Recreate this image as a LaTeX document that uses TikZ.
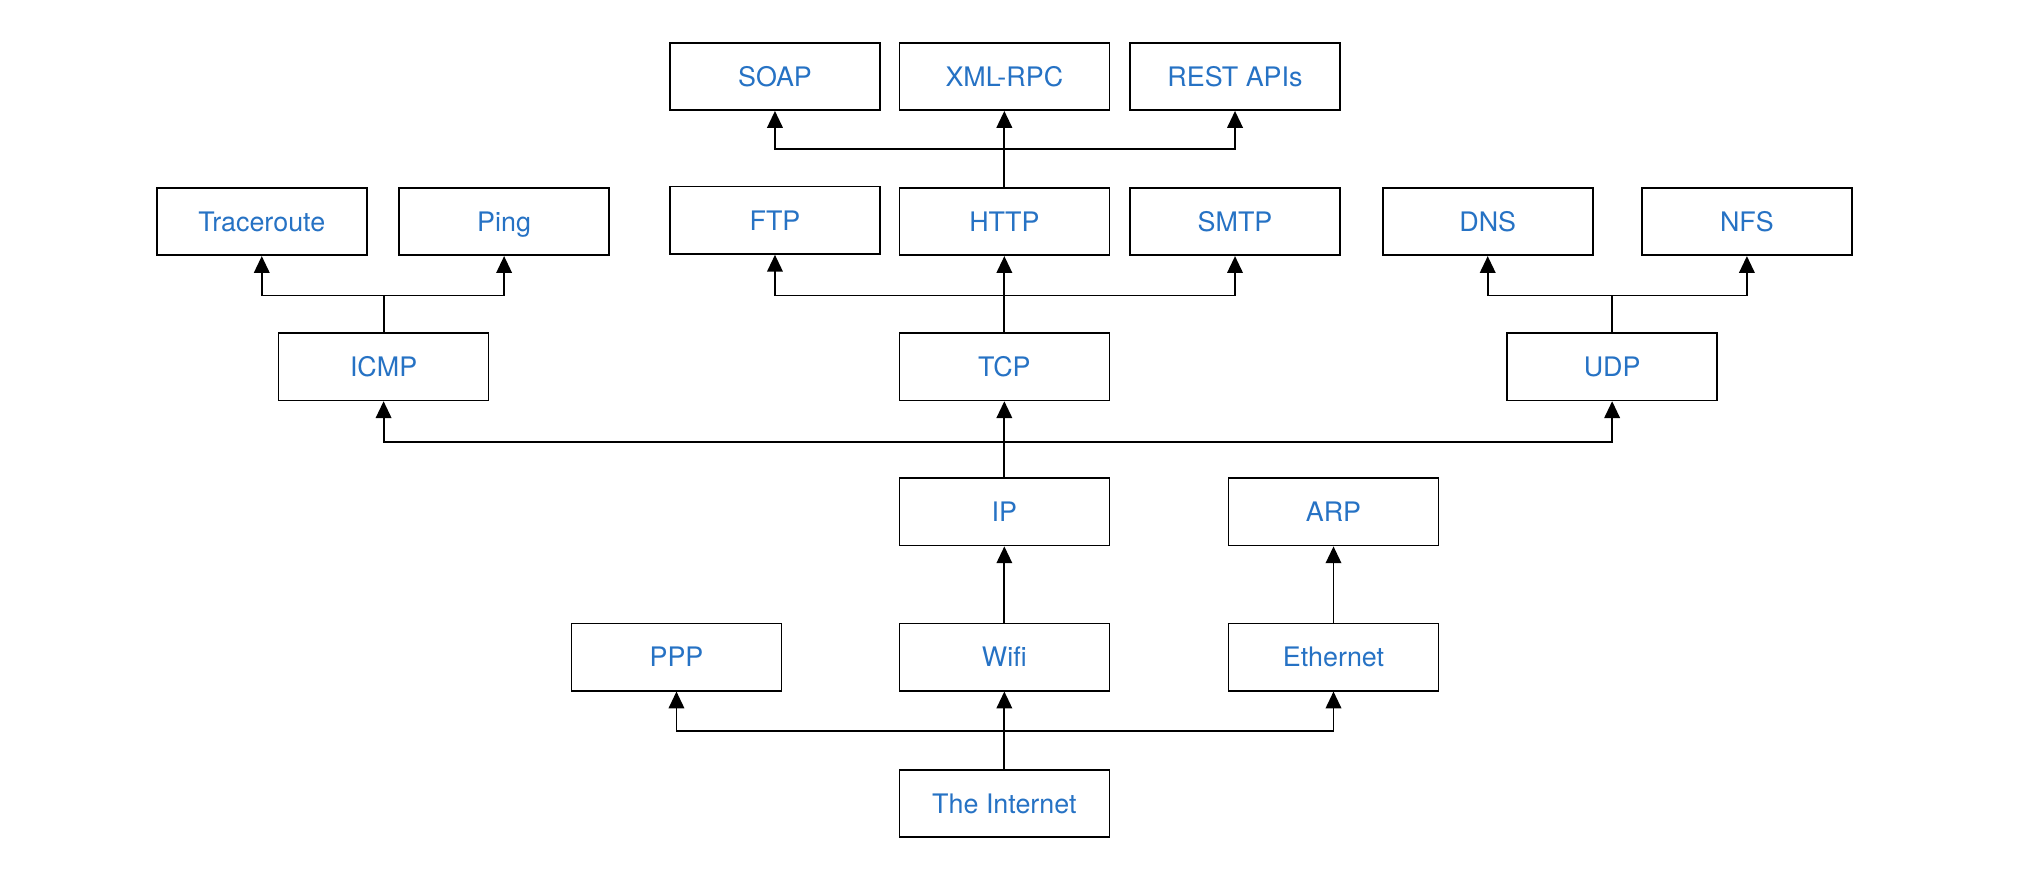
\documentclass[tikz,border=0pt]{standalone}
\usepackage{fontspec}
\setmainfont{TeX Gyre Heros}
\usetikzlibrary{arrows.meta}
\definecolor{labelblue}{RGB}{38,114,196}
\tikzset{
  layer/.style = {draw = black, line width = 0.7pt, minimum width = 32.4mm, minimum height = 10.4mm,
                  inner sep = 0pt, text height = 8.6pt, text depth = 0pt,
                  text = labelblue, font = \fontsize{11.8}{14}\selectfont},
  link/.style  = {draw = black, line width = 0.8pt},
  arr/.style   = {link, -{Triangle[width = 2.4mm, length = 2.6mm]}}
}
\begin{document}
\begin{tikzpicture}[x = 0.2mm, y = -0.2mm]
\useasboundingbox (0,0) rectangle (1568,671);
% application protocols on top of HTTP
\node[layer] (soap) at (598,59) {SOAP};
\node[layer] (xmlrpc) at (775,59) {XML-RPC};
\node[layer] (rest) at (953,59) {REST APIs};
% tools and application protocols
\node[layer] (trace) at (202,171) {Traceroute};
\node[layer] (ping) at (389,171) {Ping};
\node[layer] (ftp) at (598,170) {FTP};
\node[layer] (http) at (775,171) {HTTP};
\node[layer] (smtp) at (953,171) {SMTP};
\node[layer] (dns) at (1148,171) {DNS};
\node[layer] (nfs) at (1348,171) {NFS};
% transport
\node[layer] (icmp) at (296,283) {ICMP};
\node[layer] (tcp) at (775,283) {TCP};
\node[layer] (udp) at (1244,283) {UDP};
% network
\node[layer] (ip) at (775,395) {IP};
\node[layer] (arp) at (1029,395) {ARP};
% link
\node[layer] (ppp) at (522,507) {PPP};
\node[layer] (wifi) at (775,507) {Wifi};
\node[layer] (eth) at (1029,507) {Ethernet};
\node[layer] (inet) at (775,620) {The Internet};
% bus points
\coordinate (httpbus) at (775,115);
\coordinate (tcpbus) at (775,228);
\coordinate (icmpbus) at (296,228);
\coordinate (udpbus) at (1244,228);
\coordinate (ipbus) at (775,341);
\coordinate (inetbus) at (775,564);
% connectors
\draw[link] (http.north) -- (httpbus);
\foreach \t in {soap,xmlrpc,rest} \draw[arr] (httpbus) -| (\t.south);
\draw[link] (tcp.north) -- (tcpbus);
\foreach \t in {ftp,http,smtp} \draw[arr] (tcpbus) -| (\t.south);
\draw[link] (icmp.north) -- (icmpbus);
\foreach \t in {trace,ping} \draw[arr] (icmpbus) -| (\t.south);
\draw[link] (udp.north) -- (udpbus);
\foreach \t in {dns,nfs} \draw[arr] (udpbus) -| (\t.south);
\draw[link] (ip.north) -- (ipbus);
\foreach \t in {icmp,tcp,udp} \draw[arr] (ipbus) -| (\t.south);
\draw[arr] (wifi.north) -- (ip.south);
\draw[arr] (eth.north) -- (arp.south);
\draw[link] (inet.north) -- (inetbus);
\foreach \t in {ppp,wifi,eth} \draw[arr] (inetbus) -| (\t.south);
\end{tikzpicture}
\end{document}
